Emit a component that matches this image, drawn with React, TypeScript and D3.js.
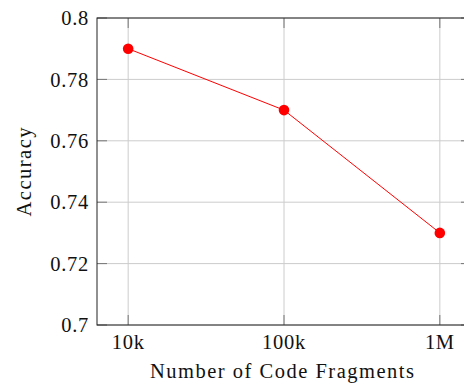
import React from 'react';
import * as d3 from 'd3';

// data
const fragments = [1e4, 1e5, 1e6];
const fragmentLabels = ['10k', '100k', '1M'];
const accuracy = [0.79, 0.77, 0.73];
const yTicks = [0.7, 0.72, 0.74, 0.76, 0.78, 0.8];

const W = 464;
const H = 385;
const font = "'Liberation Serif', 'DejaVu Serif', serif";
const fontSize = 20.5;

const App: React.FC = () => {
    const left = 97;
    const right = 471;
    const top = 18;
    const bottom = 325;

    // log axis, data spans 128..440 -> enlarged by 0.2 decade each side
    const x = d3.scaleLog()
        .domain([Math.pow(10, 3.8), Math.pow(10, 6.2)])
        .range([left, right]);
    const y = d3.scaleLinear().domain([0.7, 0.8]).range([bottom, top]);

    const line = d3.line<number>()
        .x((_d, i) => x(fragments[i]))
        .y(d => y(d));

    const tickLen = 10;
    const fmt = (v: number) => String(+v.toFixed(2));

    return (
        <svg width={W} height={H} style={{ position: 'absolute', left: 0, top: 0, background: '#fff' }}>
            {/* grid */}
            <g stroke="#cccccc" strokeWidth={1}>
                {yTicks.map(t => (
                    <line key={'gy' + t} x1={left} x2={right} y1={y(t)} y2={y(t)} />
                ))}
                {fragments.map(f => (
                    <line key={'gx' + f} x1={x(f)} x2={x(f)} y1={top} y2={bottom} />
                ))}
            </g>

            {/* tick marks */}
            <g stroke="#777" strokeWidth={1}>
                {yTicks.map(t => (
                    <g key={'ty' + t}>
                        <line x1={left} x2={left + tickLen} y1={y(t)} y2={y(t)} />
                        <line x1={right - tickLen} x2={right} y1={y(t)} y2={y(t)} />
                    </g>
                ))}
                {fragments.map(f => (
                    <g key={'tx' + f}>
                        <line x1={x(f)} x2={x(f)} y1={bottom} y2={bottom - tickLen} />
                        <line x1={x(f)} x2={x(f)} y1={top} y2={top + tickLen} />
                    </g>
                ))}
            </g>

            {/* frame */}
            <rect x={left} y={top} width={right - left} height={bottom - top}
                fill="none" stroke="#222" strokeWidth={1} />

            {/* series */}
            <path d={line(accuracy) || ''} fill="none" stroke="#ff0000" strokeWidth={1} />
            {accuracy.map((a, i) => (
                <circle key={'p' + i} cx={x(fragments[i])} cy={y(a)} r={5.3} fill="#ff0000" />
            ))}

            {/* tick labels */}
            <g fontFamily={font} fontSize={fontSize} fill="#111" letterSpacing={0.7}>
                {yTicks.map(t => (
                    <text key={'ly' + t} x={left - 8} y={y(t)} dy="0.35em" textAnchor="end">{fmt(t)}</text>
                ))}
                {fragments.map((f, i) => (
                    <text key={'lx' + f} x={x(f)} y={349} textAnchor="middle">{fragmentLabels[i]}</text>
                ))}
            </g>

            {/* axis titles */}
            <text x={282} y={378} textAnchor="middle" fontFamily={font} fontSize={fontSize} fill="#111"
                textLength={264} lengthAdjust="spacing">
                Number of Code Fragments
            </text>
            <text transform={`translate(31, 172) rotate(-90)`} textAnchor="middle"
                fontFamily={font} fontSize={fontSize} fill="#111" textLength={89} lengthAdjust="spacing">
                Accuracy
            </text>
        </svg>
    );
};

export default App;
